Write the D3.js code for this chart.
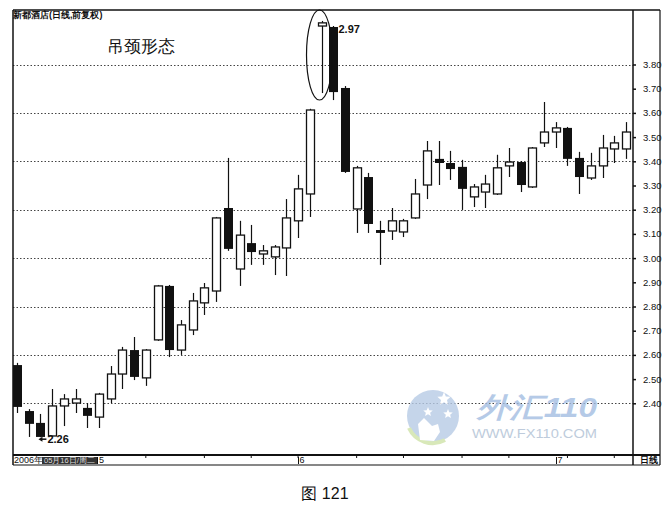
<!DOCTYPE html>
<html><head><meta charset="utf-8">
<script src="https://cdn.jsdelivr.net/npm/d3@7"></script>
<style>
html,body{margin:0;padding:0;background:#fff;}
svg{display:block;}
text{font-family:"Liberation Sans","DejaVu Sans",sans-serif;}
</style></head>
<body>
<svg id="chart" width="670" height="506"></svg>
<script>
// ---- data ----
const dayIndex = d3.range(53);
const openVals  = [2.558,2.368,2.319,2.265,2.389,2.401,2.381,2.343,2.418,2.521,2.620,2.505,2.662,2.885,2.620,2.703,2.815,2.864,3.207,2.955,3.062,3.017,3.005,3.042,3.154,3.265,3.959,3.955,3.703,3.203,3.335,3.116,3.112,3.108,3.166,3.302,3.410,3.393,3.377,3.253,3.273,3.265,3.381,3.397,3.294,3.476,3.521,3.538,3.414,3.331,3.381,3.451,3.451];
const highVals  = [2.567,2.376,2.356,2.459,2.438,2.459,2.401,2.443,2.554,2.633,2.674,2.624,2.889,2.889,2.744,2.856,2.897,3.170,3.414,3.154,3.137,3.054,3.054,3.244,3.344,3.617,3.980,3.959,3.711,3.381,3.352,3.154,3.207,3.162,3.327,3.484,3.484,3.443,3.406,3.306,3.344,3.427,3.455,3.401,3.459,3.645,3.562,3.542,3.439,3.435,3.509,3.505,3.562];
const lowVals   = [2.360,2.261,2.260,2.261,2.306,2.360,2.298,2.298,2.401,2.459,2.496,2.472,2.658,2.591,2.600,2.682,2.765,2.819,3.030,2.885,2.972,2.972,2.930,2.926,3.083,3.170,3.682,3.653,3.352,3.104,3.104,2.972,3.075,3.087,3.162,3.244,3.302,3.323,3.199,3.211,3.207,3.261,3.335,3.273,3.290,3.459,3.455,3.381,3.265,3.323,3.331,3.393,3.410];
const closeVals = [2.385,2.315,2.261,2.389,2.418,2.418,2.348,2.438,2.521,2.620,2.509,2.620,2.885,2.620,2.724,2.823,2.877,3.166,3.038,3.095,3.025,3.030,3.046,3.166,3.286,3.612,3.972,3.686,3.356,3.373,3.141,3.104,3.154,3.154,3.265,3.443,3.393,3.368,3.286,3.294,3.306,3.373,3.397,3.302,3.455,3.521,3.538,3.410,3.335,3.381,3.455,3.476,3.521];
const priceTicks = [2.40,2.50,2.60,2.70,2.80,2.90,3.00,3.10,3.20,3.30,3.40,3.50,3.60,3.70,3.80];
const gridTicks  = [2.40,2.60,2.80,3.00,3.20,3.40,3.60,3.80];
const monthLabels = [{i:24,t:"6"},{i:46,t:"7"}];
const weekTicks = [11,16,20,24,29,33,38,42,47,51];
const titleText = "吊颈形态";
const stockTitle = "新都酒店(日线,前复权)";
const highNote = {i:26, t:"2.97"};
const lowNote  = {i:2,  t:"2.26"};

const svg = d3.select("#chart");
const L = 13, R = 633, RB = 660, T = 10, B = 455, BB = 465;

const x = d3.scalePoint().domain(dayIndex).range([17, 626]);
const y = d3.scaleLinear().domain([2.40, 3.80]).range([403.3, 64.5]);

// grid
svg.append("g").selectAll("line").data(gridTicks).join("line")
  .attr("x1", L).attr("x2", R)
  .attr("y1", d => Math.round(y(d)) + 0.5).attr("y2", d => Math.round(y(d)) + 0.5)
  .attr("stroke", "#444").attr("stroke-width", 1).attr("stroke-dasharray", "1.5,2");

// frame
const frame = svg.append("g").attr("stroke", "#111").attr("fill", "none");
frame.append("line").attr("x1", L).attr("x2", RB).attr("y1", T).attr("y2", T).attr("stroke-width", 1.5);
frame.append("line").attr("x1", L).attr("x2", L).attr("y1", T).attr("y2", BB).attr("stroke-width", 1.5);
frame.append("line").attr("x1", R).attr("x2", R).attr("y1", T).attr("y2", BB).attr("stroke-width", 1.5);
frame.append("line").attr("x1", RB).attr("x2", RB).attr("y1", T).attr("y2", BB).attr("stroke-width", 1.2);
frame.append("line").attr("x1", L).attr("x2", RB).attr("y1", B).attr("y2", B).attr("stroke-width", 2);
frame.append("line").attr("x1", L).attr("x2", RB).attr("y1", BB).attr("y2", BB).attr("stroke-width", 1.2);

// right axis
const axis = d3.axisRight(y).tickValues(priceTicks).tickFormat(d3.format(".2f")).tickSize(3).tickPadding(7);
const ag = svg.append("g").attr("transform", `translate(${R},0)`).call(axis);
ag.select(".domain").remove();
ag.selectAll(".tick line").attr("stroke", "#111").attr("stroke-width", 1.5);
ag.selectAll(".tick text").attr("font-size", 9.5).attr("fill", "#111")
  .attr("font-family", "'Liberation Sans Narrow','Liberation Sans',sans-serif");

// candles
const data = dayIndex.map(i => ({i, o: openVals[i], h: highVals[i], l: lowVals[i], c: closeVals[i]}));
const bw = 8;
const cg = svg.append("g");
data.forEach(d => {
  const cx = Math.round(x(d.i)) + 0.5;
  const up = d.c >= d.o;
  const top = y(Math.max(d.o, d.c)), bot = y(Math.min(d.o, d.c));
  if (up) {
    cg.append("line").attr("x1", cx).attr("x2", cx).attr("y1", y(d.h)).attr("y2", top).attr("stroke", "#111").attr("stroke-width", 1.2);
    cg.append("line").attr("x1", cx).attr("x2", cx).attr("y1", bot).attr("y2", y(d.l)).attr("stroke", "#111").attr("stroke-width", 1.2);
    cg.append("rect").attr("x", cx - bw / 2).attr("y", top).attr("width", bw).attr("height", Math.max(1.5, bot - top))
      .attr("fill", "#fff").attr("stroke", "#111").attr("stroke-width", 1.3);
  } else {
    cg.append("line").attr("x1", cx).attr("x2", cx).attr("y1", y(d.h)).attr("y2", y(d.l)).attr("stroke", "#111").attr("stroke-width", 1.2);
    cg.append("rect").attr("x", cx - bw / 2 - 0.5).attr("y", top).attr("width", bw + 1).attr("height", Math.max(2, bot - top))
      .attr("fill", "#111");
  }
});

// annotations
const hm = data[highNote.i];
svg.append("ellipse").attr("cx", x(hm.i) - 2).attr("cy", 55).attr("rx", 13).attr("ry", 45)
  .attr("fill", "none").attr("stroke", "#111").attr("stroke-width", 1.2);
svg.append("text").attr("x", x(hm.i) + 17).attr("y", y(hm.h) + 12).attr("font-size", 11).attr("font-weight", "bold")
  .attr("fill", "#111").text(highNote.t);

const lw = data[lowNote.i];
const ax0 = x(lw.i) - 1, ayy = y(lw.l) + 2;
svg.append("line").attr("x1", ax0 + 2).attr("x2", ax0 + 7).attr("y1", ayy).attr("y2", ayy).attr("stroke", "#111").attr("stroke-width", 1.5);
svg.append("path").attr("d", `M${ax0 - 1},${ayy} L${ax0 + 3},${ayy - 2.5} L${ax0 + 3},${ayy + 2.5} Z`).attr("fill", "#111");
svg.append("text").attr("x", ax0 + 8).attr("y", ayy + 4).attr("font-size", 11).attr("font-weight", "bold")
  .attr("fill", "#111").text(lowNote.t);

// titles
svg.append("text").attr("x", 13).attr("y", 18).attr("font-size", 9).attr("font-weight", "bold")
  .attr("font-family", "'Noto Sans CJK SC',sans-serif").attr("fill", "#111").text(stockTitle);
svg.append("text").attr("x", 107).attr("y", 52).attr("font-size", 17)
  .attr("font-family", "'Noto Sans CJK SC',sans-serif").attr("fill", "#111").text(titleText);

// bottom strip
const bs = svg.append("g");
bs.selectAll("line.wk").data(weekTicks).join("line").attr("class", "wk")
  .attr("x1", d => x(d)).attr("x2", d => x(d)).attr("y1", B).attr("y2", B + 3).attr("stroke", "#111");
bs.append("text").attr("x", 14).attr("y", 463).attr("font-size", 9)
  .attr("font-family", "'Noto Sans CJK SC',sans-serif").attr("fill", "#111").text("2006年");
bs.append("rect").attr("x", 42).attr("y", 457).attr("width", 55).attr("height", 7).attr("fill", "#333");
bs.append("text").attr("x", 44).attr("y", 463).attr("font-size", 7.5).attr("fill", "#ddd")
  .attr("font-family", "'Noto Sans CJK SC',sans-serif").text("05月16日/周二");
bs.append("line").attr("x1", 97.5).attr("x2", 97.5).attr("y1", 457).attr("y2", 464).attr("stroke", "#111");
bs.append("text").attr("x", 99).attr("y", 463).attr("font-size", 9).attr("fill", "#111").text("5");
monthLabels.forEach(m => {
  const mx = Math.round(x(m.i)) + 0.5;
  bs.append("line").attr("x1", mx).attr("x2", mx).attr("y1", 457).attr("y2", 464).attr("stroke", "#111");
  bs.append("text").attr("x", mx + 1).attr("y", 463).attr("font-size", 9).attr("fill", "#111").text(m.t);
});
bs.append("text").attr("x", 640).attr("y", 463).attr("font-size", 9).attr("font-weight", "bold")
  .attr("font-family", "'Noto Sans CJK SC',sans-serif").attr("fill", "#111").text("日线");

// watermark
const wm = svg.append("g").attr("opacity", 0.8);
wm.append("circle").attr("cx", 433).attr("cy", 416).attr("r", 26).attr("fill", "#b7cbe6");
wm.append("path").attr("d", "M409,428 A26,26 0 0,0 445,440").attr("fill", "none").attr("stroke", "#cfe3a8").attr("stroke-width", 4);
const star = (cx, cy, r) => {
  const pts = d3.range(10).map(k => {
    const a = -Math.PI / 2 + k * Math.PI / 5, rr = k % 2 ? r * 0.45 : r;
    return [cx + rr * Math.cos(a), cy + rr * Math.sin(a)];
  });
  wm.append("path").attr("d", d3.line()(pts) + "Z").attr("fill", "#fff");
};
star(444, 399, 7); star(428, 412, 5); star(448, 414, 5);
wm.append("path").attr("d", "M420,440 L418,424 L424,418 L432,426 L438,424 L440,432 L434,441 Z").attr("fill", "#fff");
wm.append("text").attr("x", 477).attr("y", 417).attr("font-size", 28).attr("font-weight", "bold").attr("font-style", "italic")
  .attr("font-family", "'Noto Sans CJK SC',sans-serif").attr("fill", "#a3bde2")
  .attr("textLength", 120).attr("lengthAdjust", "spacingAndGlyphs").text("外汇110");
wm.append("text").attr("x", 472).attr("y", 438).attr("font-size", 13)
  .attr("fill", "#aebfd4").attr("textLength", 125).attr("lengthAdjust", "spacingAndGlyphs").text("WWW.FX110.COM");

// caption
svg.append("text").attr("x", 325).attr("y", 499).attr("text-anchor", "middle").attr("font-size", 16)
  .attr("font-family", "'Noto Sans CJK SC',sans-serif").attr("fill", "#111").text("图 121");
</script>
</body></html>
